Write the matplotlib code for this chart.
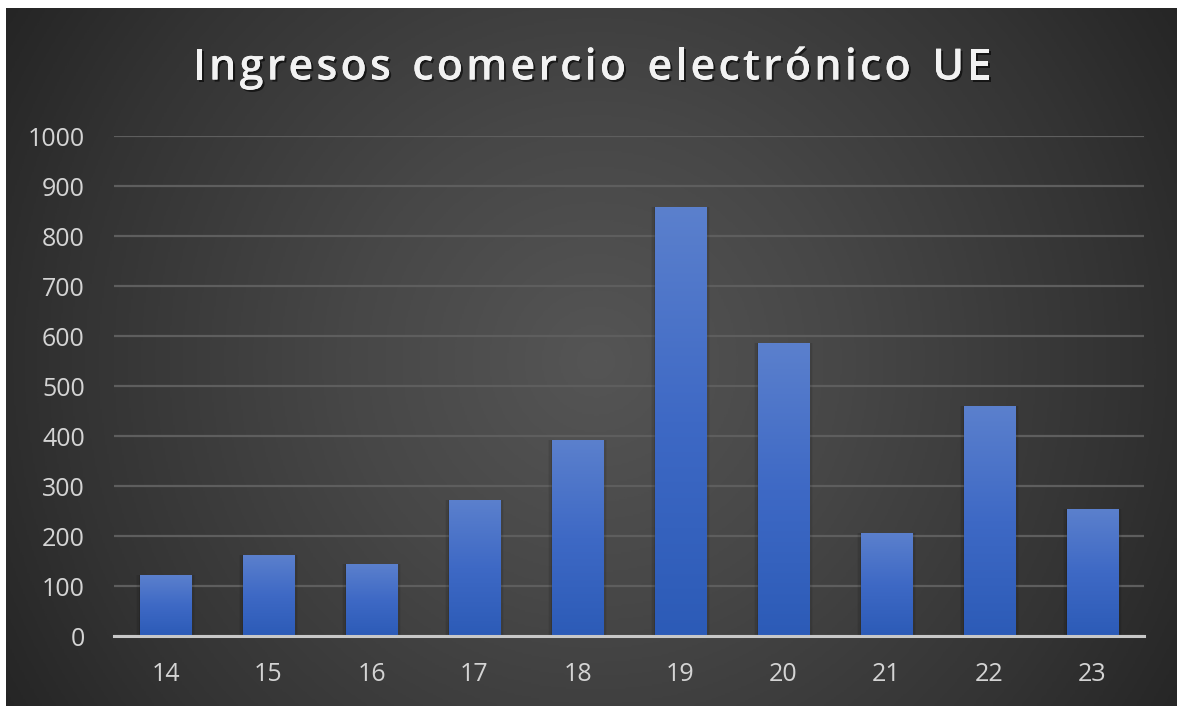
import numpy as np
import matplotlib
matplotlib.use("Agg")
import matplotlib.pyplot as plt
from matplotlib.colors import LinearSegmentedColormap
import matplotlib.patheffects as pe

categories = ["14", "15", "16", "17", "18", "19", "20", "21", "22", "23"]
values = [122, 162, 144, 272, 392, 858, 586, 206, 460, 254]
yticks = [0, 100, 200, 300, 400, 500, 600, 700, 800, 900, 1000]
title = "Ingresos comercio electrónico UE"

W, H = 1177, 707
fig = plt.figure(figsize=(W / 100, H / 100), dpi=100, facecolor="white")

# background radial gradient
bx0, bx1, by0, by1 = 6, 1177, 8, 706
bg = fig.add_axes([bx0 / W, 1 - by1 / H, (bx1 - bx0) / W, (by1 - by0) / H])
bg.set_axis_off()
ny, nx = 400, 700
yy, xx = np.mgrid[0:ny, 0:nx]
px = bx0 + xx / nx * (bx1 - bx0)
py = by0 + yy / ny * (by1 - by0)
r = np.sqrt((px - 595) ** 2 + (py - 360) ** 2)
r = r / 700.0
cmap = LinearSegmentedColormap.from_list("bgc", [(0, "#555555"), (0.35, "#474747"), (0.75, "#333333"), (1.0, "#242424")])
bg.imshow(np.clip(r, 0, 1), cmap=cmap, vmin=0, vmax=1, aspect="auto", extent=[0, 1, 0, 1], interpolation="bilinear")
bg.set_xlim(0, 1)
bg.set_ylim(0, 1)

# main axes
l, rgt, top, bot = 114, 1144, 136, 636
ax = fig.add_axes([l / W, 1 - bot / H, (rgt - l) / W, (bot - top) / H])
ax.patch.set_alpha(0)
x = np.arange(len(categories))
bars = ax.bar(x, values, width=0.5, color="#3f6cc6", zorder=3)
ax.set_xlim(-0.5, len(categories) - 0.5)
ax.set_ylim(0, 1000)

# shadow and gradient fill
grad = np.linspace(0, 1, 256).reshape(-1, 1)
bcmap = LinearSegmentedColormap.from_list("barc", ["#2c5bb7", "#3e69c5", "#5b80cd"])
for b in bars:
    bx, bw, bh = b.get_x(), b.get_width(), b.get_height()
    for k, a in enumerate([0.10, 0.07, 0.04]):
        d = 0.012 * (k + 1)
        ax.add_patch(plt.Rectangle((bx - d, 0), bw + 2 * d, bh + d * 12, color="black", alpha=a, zorder=2, lw=0))
    im = ax.imshow(grad, cmap=bcmap, extent=[bx, bx + bw, 0, bh], aspect="auto", origin="lower", zorder=4)
    im.set_clip_path(b)

ax.set_yticks(yticks)
ax.set_xticks(x)
ax.set_xticklabels(categories)
ax.grid(axis="y", color="#5e5e5e", linewidth=1.6, zorder=1)
ax.set_axisbelow(True)
for s in ["top", "right", "left"]:
    ax.spines[s].set_visible(False)
ax.spines["bottom"].set_color("#c8c8c8")
ax.spines["bottom"].set_linewidth(2.2)
ax.spines["bottom"].set_zorder(5)
ax.tick_params(axis="both", length=0, colors="#d4d4d4", labelsize=18)
ax.tick_params(axis="y", pad=21)
ax.tick_params(axis="x", pad=19)
for t in ax.get_xticklabels() + ax.get_yticklabels():
    t.set_fontfamily("Open Sans")

# title with letter spacing
fig.canvas.draw()
renderer = fig.canvas.get_renderer()
fs = 31
fp = dict(fontsize=fs, fontfamily="Open Sans", fontweight="semibold", color="#f2f2f2")
spacing = 3.2  # px
widths = []
for ch in title:
    t = fig.text(0, 0, ch if ch != " " else "n", **fp)
    w = t.get_window_extent(renderer).width
    if ch == " ":
        w *= 0.55
    widths.append(w)
    t.remove()
total = sum(widths) + spacing * (len(title) - 1)
cx = 592
xpos = cx - total / 2
ty = 68
for ch, w in zip(title, widths):
    if ch != " ":
        fig.text(xpos / W, 1 - ty / H, ch, ha="left", va="center",
                 path_effects=[pe.withSimplePatchShadow(offset=(1.5, -1.5), shadow_rgbFace="black", alpha=0.6), pe.Normal()],
                 **fp)
    xpos += w + spacing

fig.savefig("out.png", dpi=100, facecolor="white")
